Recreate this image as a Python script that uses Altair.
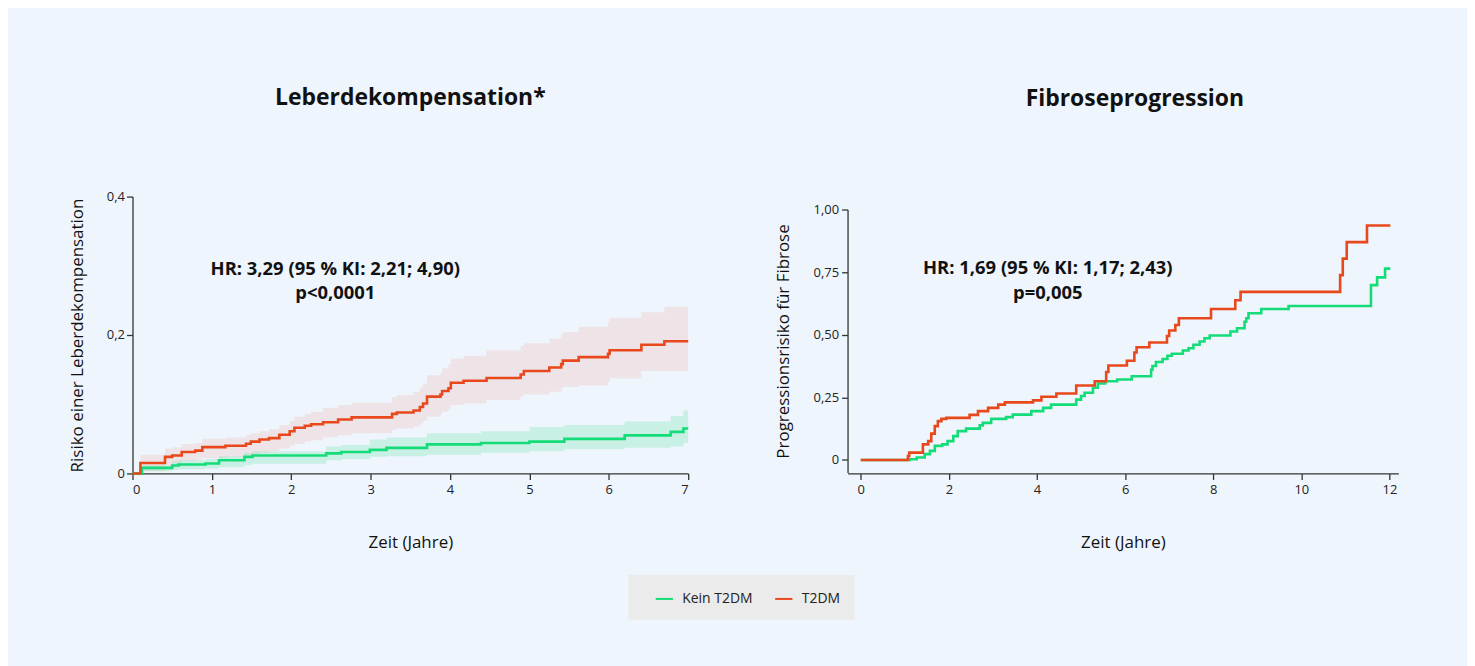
import altair as alt
import pandas as pd

FONT = "Open Sans"
GROUPS = ["Kein T2DM", "T2DM"]
LINE_COLORS = ["#14DC78", "#E8481C"]
BAND_RED = "#E8481C"
BAND_GRN = "#14DC78"

# ---------------- Leberdekompensation (left) ----------------
L_RED_T = [0, 0.1, 0.41, 0.5, 0.62, 0.79, 0.88, 1.17, 1.43, 1.49,
           1.6, 1.72, 1.85, 1.98, 2.04, 2.17, 2.25, 2.40, 2.59, 2.76,
           3.27, 3.33, 3.54, 3.62, 3.66, 3.71, 3.88, 3.9, 3.98, 4.01,
           4.17, 4.46, 4.89, 4.93, 5.25, 5.40, 5.42, 5.62, 5.99, 6.01,
           6.41, 6.70, 7.0]
L_RED_V = [0, 0.015, 0.024, 0.026, 0.031, 0.033, 0.038, 0.040, 0.043, 0.046,
           0.049, 0.051, 0.056, 0.061, 0.066, 0.069, 0.071, 0.074, 0.078, 0.081,
           0.086, 0.088, 0.091, 0.096, 0.101, 0.111, 0.114, 0.119, 0.123, 0.131,
           0.134, 0.138, 0.143, 0.148, 0.153, 0.158, 0.163, 0.168, 0.173, 0.178,
           0.186, 0.191, 0.191]
L_RED_HI = [0, 0.027, 0.036, 0.038, 0.042, 0.044, 0.050, 0.052, 0.055, 0.058,
            0.061, 0.064, 0.070, 0.076, 0.082, 0.086, 0.089, 0.095, 0.099, 0.102,
            0.110, 0.113, 0.118, 0.124, 0.130, 0.142, 0.146, 0.152, 0.158, 0.166,
            0.170, 0.178, 0.184, 0.188, 0.195, 0.200, 0.204, 0.212, 0.218, 0.225,
            0.233, 0.241, 0.241]
L_RED_LO = [0, 0.003, 0.012, 0.014, 0.018, 0.019, 0.022, 0.024, 0.026, 0.028,
            0.030, 0.032, 0.036, 0.040, 0.043, 0.046, 0.048, 0.052, 0.055, 0.058,
            0.063, 0.065, 0.068, 0.072, 0.076, 0.082, 0.085, 0.089, 0.093, 0.099,
            0.101, 0.106, 0.111, 0.114, 0.118, 0.122, 0.125, 0.127, 0.132, 0.137,
            0.148, 0.148, 0.148]

L_GRN_T = [0, 0.12, 0.5, 0.58, 0.92, 1.09, 1.41, 1.51, 2.44, 2.63,
           2.99, 3.2, 3.71, 4.39, 5.0, 5.44, 6.2, 6.78, 6.94, 7.0]
L_GRN_V = [0, 0.008, 0.0115, 0.013, 0.0143, 0.019, 0.024, 0.026, 0.029, 0.031,
           0.034, 0.037, 0.042, 0.044, 0.046, 0.050, 0.055, 0.060, 0.065, 0.065]
L_GRN_HI = [0, 0.012, 0.018, 0.019, 0.021, 0.025, 0.030, 0.032, 0.039, 0.041,
            0.049, 0.052, 0.058, 0.061, 0.067, 0.070, 0.075, 0.083, 0.091, 0.091]
L_GRN_LO = [0, 0.003, 0.005, 0.006, 0.007, 0.009, 0.012, 0.014, 0.019, 0.021,
            0.024, 0.025, 0.027, 0.030, 0.032, 0.035, 0.037, 0.039, 0.044, 0.044]

# ---------------- Fibroseprogression (right) ----------------
R_RED_T = [0, 1.07, 1.1, 1.41, 1.53, 1.6, 1.68, 1.75, 1.83, 1.94,
           2.47, 2.66, 2.89, 3.12, 3.27, 3.91, 4.1, 4.44, 4.89, 5.31,
           5.57, 5.62, 6.04, 6.21, 6.26, 6.55, 6.95, 7.0, 7.14, 7.22,
           7.95, 8.5, 8.62, 10.88, 10.94, 11.03, 11.49, 12.02]
R_RED_V = [0, 0.016, 0.029, 0.062, 0.075, 0.105, 0.135, 0.155, 0.164, 0.168,
           0.18, 0.195, 0.208, 0.221, 0.23, 0.238, 0.252, 0.265, 0.297, 0.314,
           0.351, 0.377, 0.396, 0.429, 0.45, 0.469, 0.495, 0.517, 0.539, 0.566,
           0.603, 0.638, 0.671, 0.738, 0.804, 0.87, 0.936, 0.936]
R_GRN_T = [0, 1.11, 1.27, 1.45, 1.57, 1.68, 1.85, 1.97, 2.1, 2.2,
           2.39, 2.7, 2.77, 2.96, 3.3, 3.45, 3.87, 4.14, 4.32, 4.89,
           5.0, 5.08, 5.27, 5.38, 5.55, 5.82, 6.15, 6.59, 6.62, 6.7,
           6.85, 6.96, 7.06, 7.31, 7.44, 7.55, 7.69, 7.8, 7.92, 8.39,
           8.54, 8.71, 8.75, 8.8, 9.09, 9.71, 11.58, 11.72, 11.9, 12.02]
R_GRN_V = [0, 0.003, 0.01, 0.023, 0.036, 0.056, 0.062, 0.075, 0.095, 0.115,
           0.125, 0.138, 0.148, 0.164, 0.171, 0.181, 0.195, 0.208, 0.221, 0.241,
           0.255, 0.268, 0.288, 0.305, 0.314, 0.321, 0.334, 0.36, 0.375, 0.391,
           0.403, 0.416, 0.424, 0.437, 0.446, 0.46, 0.473, 0.486, 0.497, 0.513,
           0.526, 0.552, 0.566, 0.586, 0.603, 0.615, 0.698, 0.729, 0.764, 0.764]

L_TITLE = "Leberdekompensation*"
R_TITLE = "Fibroseprogression"
L_NOTE = ["HR: 3,29 (95 % KI: 2,21; 4,90)", "p<0,0001"]
R_NOTE = ["HR: 1,69 (95 % KI: 1,17; 2,43)", "p=0,005"]
L_NOTE_POS = (2.555, [0.296, 0.26])
R_NOTE_POS = (4.245, [0.766, 0.666])

left_red = pd.DataFrame({"t": L_RED_T, "v": L_RED_V, "lo": L_RED_LO, "hi": L_RED_HI, "g": "T2DM"})
left_grn = pd.DataFrame({"t": L_GRN_T, "v": L_GRN_V, "lo": L_GRN_LO, "hi": L_GRN_HI, "g": "Kein T2DM"})
right_red = pd.DataFrame({"t": R_RED_T, "v": R_RED_V, "g": "T2DM"})
right_grn = pd.DataFrame({"t": R_GRN_T, "v": R_GRN_V, "g": "Kein T2DM"})
left_note = pd.DataFrame({"t": [L_NOTE_POS[0]] * 2, "v": L_NOTE_POS[1], "label": L_NOTE})
right_note = pd.DataFrame({"t": [R_NOTE_POS[0]] * 2, "v": R_NOTE_POS[1], "label": R_NOTE})

color = alt.Color("g:N", scale=alt.Scale(domain=GROUPS, range=LINE_COLORS), legend=alt.Legend(
    title=None, orient="none", legendX=498, legendY=380, direction="horizontal",
    fillColor="#EBEBEB", padding=14, symbolType="stroke", symbolStrokeWidth=2,
    symbolSize=300, symbolOffset=12, labelOffset=8, labelFont=FONT, labelFontSize=14,
    labelColor="#222", columnPadding=9))

axis_common = dict(domainColor="#333", tickColor="#333", domainWidth=1.3, tickWidth=1.3,
                   tickSize=6, labelFont=FONT, labelFontSize=13, labelColor="#222",
                   titleFont=FONT, titleFontSize=17, titleFontWeight="normal",
                   titleColor="#111", grid=False)

# left encodings
lx_scale = alt.Scale(domain=[0, 7], nice=False, zero=False)
ly_scale = alt.Scale(domain=[0, 0.4], nice=False)
lx_axis = alt.Axis(values=list(range(8)), title="Zeit (Jahre)", labelPadding=4,
                   titlePadding=38, **axis_common)
ly_axis = alt.Axis(values=[0, 0.2, 0.4], title="Risiko einer Leberdekompensation",
                   labelExpr="datum.value == 0 ? '0' : replace(format(datum.value, '.1f'), '.', ',')",
                   labelPadding=2, titlePadding=20, **axis_common)
LX = alt.X("t:Q", scale=lx_scale, axis=lx_axis)

band_l_red = alt.Chart(left_red).mark_area(interpolate="step-after", color=BAND_RED, opacity=0.09).encode(
    x=LX, y=alt.Y("lo:Q", scale=ly_scale, axis=ly_axis), y2="hi:Q")
band_l_grn = alt.Chart(left_grn).mark_area(interpolate="step-after", color=BAND_GRN, opacity=0.17).encode(
    x=LX, y=alt.Y("lo:Q", scale=ly_scale, axis=ly_axis), y2="hi:Q")
line_l_grn = alt.Chart(left_grn).mark_line(interpolate="step-after", strokeWidth=2.6).encode(
    x=LX, y=alt.Y("v:Q", scale=ly_scale, axis=ly_axis), color=color)
line_l_red = alt.Chart(left_red).mark_line(interpolate="step-after", strokeWidth=2.6).encode(
    x=LX, y=alt.Y("v:Q", scale=ly_scale, axis=ly_axis), color=color)
note_l = alt.Chart(left_note).mark_text(font=FONT, fontSize=18.5, fontWeight="bold", color="#111",
                                        align="center", baseline="middle").encode(
    x=LX, y=alt.Y("v:Q", scale=ly_scale, axis=ly_axis), text="label:N")

left = alt.layer(band_l_red, band_l_grn, line_l_grn, line_l_red, note_l).properties(
    width=558, height=278,
    title=alt.TitleParams(L_TITLE, font=FONT, fontSize=23, fontWeight="bold", color="#111",
                          anchor="middle", offset=81))

# right encodings (plot area top sits 13px lower than the left one)
rx_scale = alt.Scale(domain=[-0.3, 12.2], nice=False, zero=False)
ry_scale = alt.Scale(domain=[-0.05, 1.0], nice=False, zero=False, range=[277, 13])
rx_axis = alt.Axis(values=list(range(0, 13, 2)), title="Zeit (Jahre)", labelPadding=4,
                   titlePadding=38, **axis_common)
ry_axis = alt.Axis(values=[0, 0.25, 0.5, 0.75, 1.0], title="Progressionsrisiko für Fibrose",
                   labelExpr="datum.value == 0 ? '0' : replace(format(datum.value, '.2f'), '.', ',')",
                   labelPadding=3, titlePadding=21, **axis_common)
RX = alt.X("t:Q", scale=rx_scale, axis=rx_axis)
RY = alt.Y("v:Q", scale=ry_scale, axis=ry_axis)

line_r_grn = alt.Chart(right_grn).mark_line(interpolate="step-after", strokeWidth=2.6).encode(
    x=RX, y=RY, color=color)
line_r_red = alt.Chart(right_red).mark_line(interpolate="step-after", strokeWidth=2.6).encode(
    x=RX, y=RY, color=color)
note_r = alt.Chart(right_note).mark_text(font=FONT, fontSize=18.5, fontWeight="bold", color="#111",
                                         align="center", baseline="middle").encode(
    x=RX, y=RY, text="label:N")

right = alt.layer(line_r_grn, line_r_red, note_r).properties(
    width=553, height=278,
    title=alt.TitleParams(R_TITLE, font=FONT, fontSize=23, fontWeight="bold", color="#111",
                          anchor="middle", offset=86, dx=12))

chart = alt.hconcat(left, right, spacing=80).resolve_scale(
    x="independent", y="independent", color="shared"
).properties(
    padding={"left": 60, "top": 78, "right": 69, "bottom": 47},
    background="#EFF5FC",
).configure_view(stroke=None)

chart.save("out.html", embed_options={"renderer": "svg", "actions": False})
